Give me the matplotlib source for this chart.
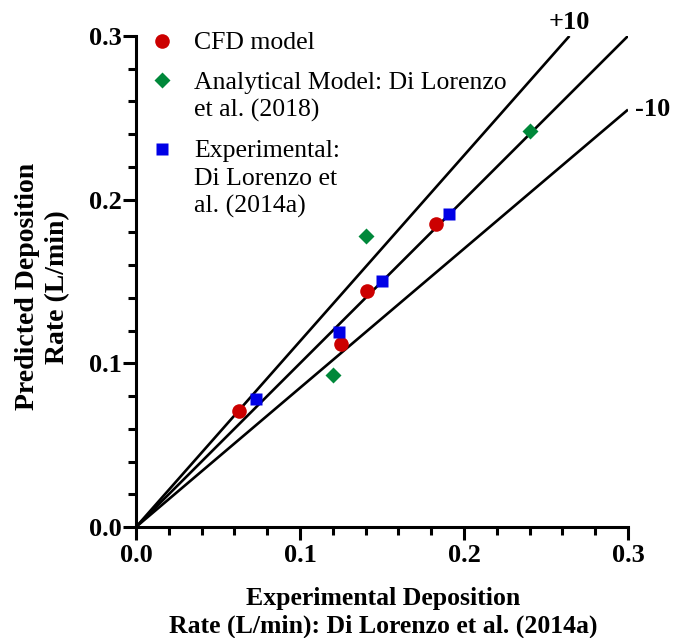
import numpy as np
import matplotlib
matplotlib.use("Agg")
import matplotlib.pyplot as plt
from matplotlib.ticker import MultipleLocator, FormatStrFormatter

plt.rcParams['font.family'] = ['Liberation Serif', 'DejaVu Serif']

# Deposition rates (L/min)
cfd_x = [0.063, 0.125, 0.141, 0.183]
cfd_y = [0.071, 0.112, 0.144, 0.185]

analytical_x = [0.120, 0.140, 0.240]
analytical_y = [0.093, 0.178, 0.242]

experimental_x = [0.073, 0.124, 0.150, 0.191]
experimental_y = [0.078, 0.119, 0.150, 0.191]

# Reference lines: parity and the +10 / -10 bounds (slope, end x)
ref_slopes = [1.0, 1.135, 0.85]
ref_ends = [0.30, 0.30 / 1.135, 0.30]

series = [
    dict(label=['CFD model'], marker='o', color='#CC0000', ms=10.5),
    dict(label=['Analytical Model: Di Lorenzo', 'et al. (2018)'], marker='D',
         color='#00883A', ms=8.5),
    dict(label=['Experimental:', 'Di Lorenzo et', 'al. (2014a)'], marker='s',
         color='#0000E6', ms=9),
]

fig = plt.figure(figsize=(6.73, 6.38), dpi=100)
ax = fig.add_axes([0.2021, 0.1740, 0.7310, 0.7696])

for s, xe in zip(ref_slopes, ref_ends):
    xs = np.array([0.0, xe])
    ax.plot(xs, s * xs, color='black', lw=1.9, zorder=1, solid_capstyle='butt')

ax.plot(cfd_x, cfd_y, linestyle='none', marker=series[0]['marker'],
        color=series[0]['color'], ms=series[0]['ms'], mec='none', zorder=3)
ax.plot(analytical_x, analytical_y, linestyle='none', marker=series[1]['marker'],
        color=series[1]['color'], ms=series[1]['ms'], mec='none', zorder=3)
ax.plot(experimental_x, experimental_y, linestyle='none', marker=series[2]['marker'],
        color=series[2]['color'], ms=series[2]['ms'], mec='none', zorder=4)

# Legend drawn by hand so each marker sits on the first line of its label
legend_tops = [0.990, 0.910, 0.770]
line_step = 0.056
for entry, ytop in zip(series, legend_tops):
    ax.plot([0.053], [ytop], transform=ax.transAxes, linestyle='none',
            marker=entry['marker'], color=entry['color'], ms=entry['ms'],
            mec='none', clip_on=False)
    for i, line in enumerate(entry['label']):
        ax.text(0.118, ytop - i * line_step, line, transform=ax.transAxes,
                ha='left', va='center_baseline', fontsize=18.5)

ax.text(0.30 / 1.135, 0.3015, '+10', ha='center', va='bottom', fontsize=19,
        fontweight='bold')
ax.text(0.304, 0.30 * 0.85, '-10', ha='left', va='center', fontsize=19,
        fontweight='bold')

ax.set_xlim(0, 0.3)
ax.set_ylim(0, 0.3)
ax.xaxis.set_major_locator(MultipleLocator(0.1))
ax.yaxis.set_major_locator(MultipleLocator(0.1))
ax.xaxis.set_minor_locator(MultipleLocator(0.02))
ax.yaxis.set_minor_locator(MultipleLocator(0.02))
ax.xaxis.set_major_formatter(FormatStrFormatter('%.1f'))
ax.yaxis.set_major_formatter(FormatStrFormatter('%.1f'))

for side in ('top', 'right'):
    ax.spines[side].set_visible(False)
for side in ('left', 'bottom'):
    ax.spines[side].set_linewidth(2.2)

ax.tick_params(which='major', direction='out', length=9.5, width=2.2,
               labelsize=19)
ax.tick_params(which='minor', direction='out', length=6, width=2.2)
ax.tick_params(axis='y', pad=1)
ax.tick_params(axis='x', pad=3)
for lab in ax.get_xticklabels() + ax.get_yticklabels():
    lab.set_fontweight('bold')

ax.set_xlabel('Experimental Deposition\nRate (L/min): Di Lorenzo et al. (2014a)',
              fontsize=18.5, fontweight='bold', linespacing=1.25)
ax.xaxis.set_label_coords(0.502, -0.175)
ax.xaxis.label.set_va('center')

ax.set_ylabel('Predicted Deposition\nRate (L/min)', fontsize=20,
              fontweight='bold', linespacing=1.3)
ax.yaxis.set_label_coords(-0.19, 0.489)
ax.yaxis.label.set_va('center')

fig.savefig('out.png', dpi=100)
